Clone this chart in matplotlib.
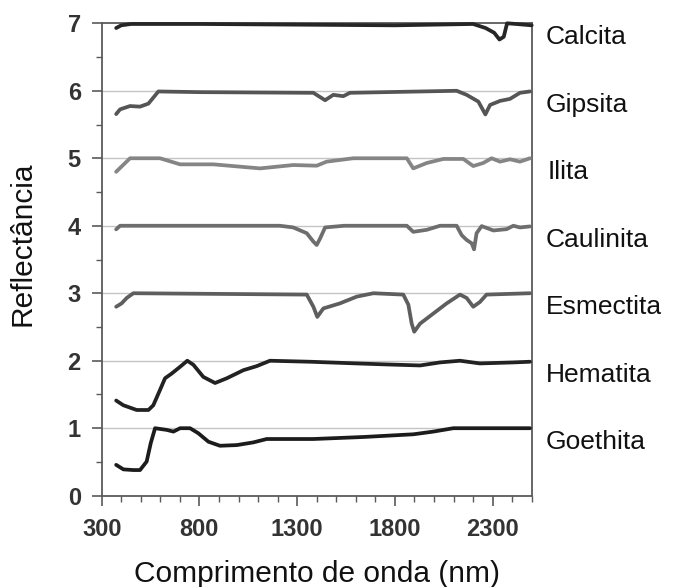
import matplotlib
matplotlib.use("Agg")
import matplotlib.pyplot as plt
import matplotlib.transforms as mtransforms
from matplotlib.ticker import MultipleLocator, FixedLocator

plt.rcParams['font.family'] = ['Liberation Sans', 'DejaVu Sans']

# ---- data (wavelength nm, stacked reflectance) ----
calcita_x = [374, 400, 450, 800, 1300, 1800, 2200, 2264, 2308, 2335, 2357, 2374, 2420, 2500]
calcita_y = [6.93, 6.97, 6.99, 6.99, 6.98, 6.97, 6.99, 6.93, 6.86, 6.76, 6.80, 7.0, 6.99, 6.97]

gipsita_x = [374, 394, 445, 496, 539, 590, 800, 1383, 1443, 1485, 1536, 1570, 2116, 2167, 2227, 2263, 2287, 2338, 2389, 2440, 2491]
gipsita_y = [5.655, 5.725, 5.774, 5.765, 5.81, 5.99, 5.98, 5.97, 5.86, 5.94, 5.92, 5.97, 6.0, 5.94, 5.84, 5.65, 5.79, 5.85, 5.88, 5.97, 5.99]

ilita_x = [374, 445, 598, 701, 871, 1110, 1280, 1400, 1451, 1587, 1861, 1894, 1963, 2048, 2150, 2201, 2252, 2295, 2338, 2389, 2440, 2491]
ilita_y = [4.80, 5.0, 5.0, 4.91, 4.91, 4.85, 4.90, 4.89, 4.95, 5.0, 5.0, 4.85, 4.93, 4.99, 4.99, 4.885, 4.93, 5.0, 4.95, 4.985, 4.95, 5.0]

caulinita_x = [374, 394, 1212, 1280, 1349, 1383, 1400, 1417, 1443, 1540, 1861, 1894, 1963, 2031, 2116, 2142, 2167, 2193, 2205, 2218, 2244, 2304, 2372, 2406, 2440, 2491]
caulinita_y = [3.947, 4.0, 4.0, 3.975, 3.89, 3.765, 3.715, 3.81, 3.975, 4.0, 4.0, 3.91, 3.94, 4.0, 4.0, 3.86, 3.79, 3.74, 3.65, 3.89, 3.995, 3.93, 3.95, 4.0, 3.975, 3.99]

esmectita_x = [374, 402, 428, 462, 1349, 1383, 1403, 1434, 1519, 1605, 1690, 1843, 1869, 1886, 1899, 1929, 1997, 2065, 2133, 2167, 2201, 2235, 2269, 2491]
esmectita_y = [2.80, 2.85, 2.93, 3.0, 2.98, 2.80, 2.65, 2.775, 2.85, 2.95, 3.0, 2.98, 2.83, 2.55, 2.43, 2.55, 2.70, 2.85, 2.98, 2.93, 2.80, 2.87, 2.98, 3.0]

hematita_x = [374, 411, 479, 539, 564, 598, 624, 658, 701, 738, 769, 820, 880, 940, 1025, 1093, 1161, 1366, 1605, 1758, 1929, 2031, 2133, 2235, 2406, 2491]
hematita_y = [1.41, 1.34, 1.27, 1.27, 1.34, 1.565, 1.74, 1.81, 1.91, 2.0, 1.94, 1.76, 1.67, 1.74, 1.86, 1.92, 2.0, 1.985, 1.96, 1.945, 1.93, 1.975, 2.0, 1.96, 1.975, 1.985]

goethita_x = [374, 411, 462, 496, 530, 551, 573, 633, 667, 701, 752, 794, 846, 905, 991, 1076, 1144, 1383, 1639, 1895, 1997, 2099, 2491]
goethita_y = [0.457, 0.39, 0.38, 0.38, 0.506, 0.78, 1.0, 0.975, 0.95, 1.0, 1.0, 0.926, 0.80, 0.74, 0.75, 0.79, 0.84, 0.84, 0.87, 0.91, 0.95, 1.0, 1.0]

names = ['Calcita', 'Gipsita', 'Ilita', 'Caulinita', 'Esmectita', 'Hematita', 'Goethita']
levels = [7, 6, 5, 4, 3, 2, 1]
series = [(calcita_x, calcita_y), (gipsita_x, gipsita_y), (ilita_x, ilita_y),
          (caulinita_x, caulinita_y), (esmectita_x, esmectita_y),
          (hematita_x, hematita_y), (goethita_x, goethita_y)]
colors = ['#262626', '#555555', '#858585', '#6e6e6e', '#5e5e5e', '#222222', '#1c1c1c']

xticks = [300, 800, 1300, 1800, 2300]
yticks = [0, 1, 2, 3, 4, 5, 6, 7]

fig = plt.figure(figsize=(6.73, 5.87), dpi=100)
ax = fig.add_axes([101.7/673, 1-495.7/587, 430/673, 472.4/587])

for y in yticks[1:-1]:
    ax.axhline(y, color='#c4c4c4', lw=1.0, zorder=1)

for (xs, ys), c in zip(series, colors):
    ax.plot(xs, ys, color=c, lw=2.7, solid_joinstyle='round', solid_capstyle='round', zorder=3, clip_on=False)

ax.set_xlim(300, 2500)
ax.set_ylim(0, 7)
ax.xaxis.set_major_locator(FixedLocator(xticks))
ax.xaxis.set_minor_locator(MultipleLocator(100))
ax.yaxis.set_major_locator(FixedLocator(yticks))
ax.yaxis.set_minor_locator(MultipleLocator(0.5))
ax.set_xticklabels([str(t) for t in xticks])
ax.set_yticklabels([str(t) for t in yticks])

for sp in ax.spines.values():
    sp.set_color('#5a5a5a')
    sp.set_linewidth(1.3)

ax.tick_params(axis='both', which='major', direction='out', length=7, width=1.2, color='#5a5a5a',
               labelsize=17, labelcolor='#333333')
ax.tick_params(axis='both', which='minor', direction='out', length=4, width=1.0, color='#5a5a5a')
ax.tick_params(axis='x', which='major', pad=9)
ax.tick_params(axis='y', which='major', pad=8)
for lab in ax.get_xticklabels() + ax.get_yticklabels():
    lab.set_fontweight('bold')

trans = mtransforms.blended_transform_factory(ax.transAxes, ax.transData)
for name, lev in zip(names, levels):
    xoff = 1.038 if name == 'Ilita' else 1.033
    ax.text(xoff, lev - 0.31, name, transform=trans, ha='left', va='baseline',
            fontsize=19, color='#111111', clip_on=False)

fig.text(316.7/673, 1-581.7/587, 'Comprimento de onda (nm)', ha='center', va='baseline',
         fontsize=21.5, color='#111111')
fig.text(23/673, 1-244/587, 'Reflectância', ha='center', va='center', rotation=90,
         fontsize=21.5, color='#111111')

fig.savefig('out.png', dpi=100)
